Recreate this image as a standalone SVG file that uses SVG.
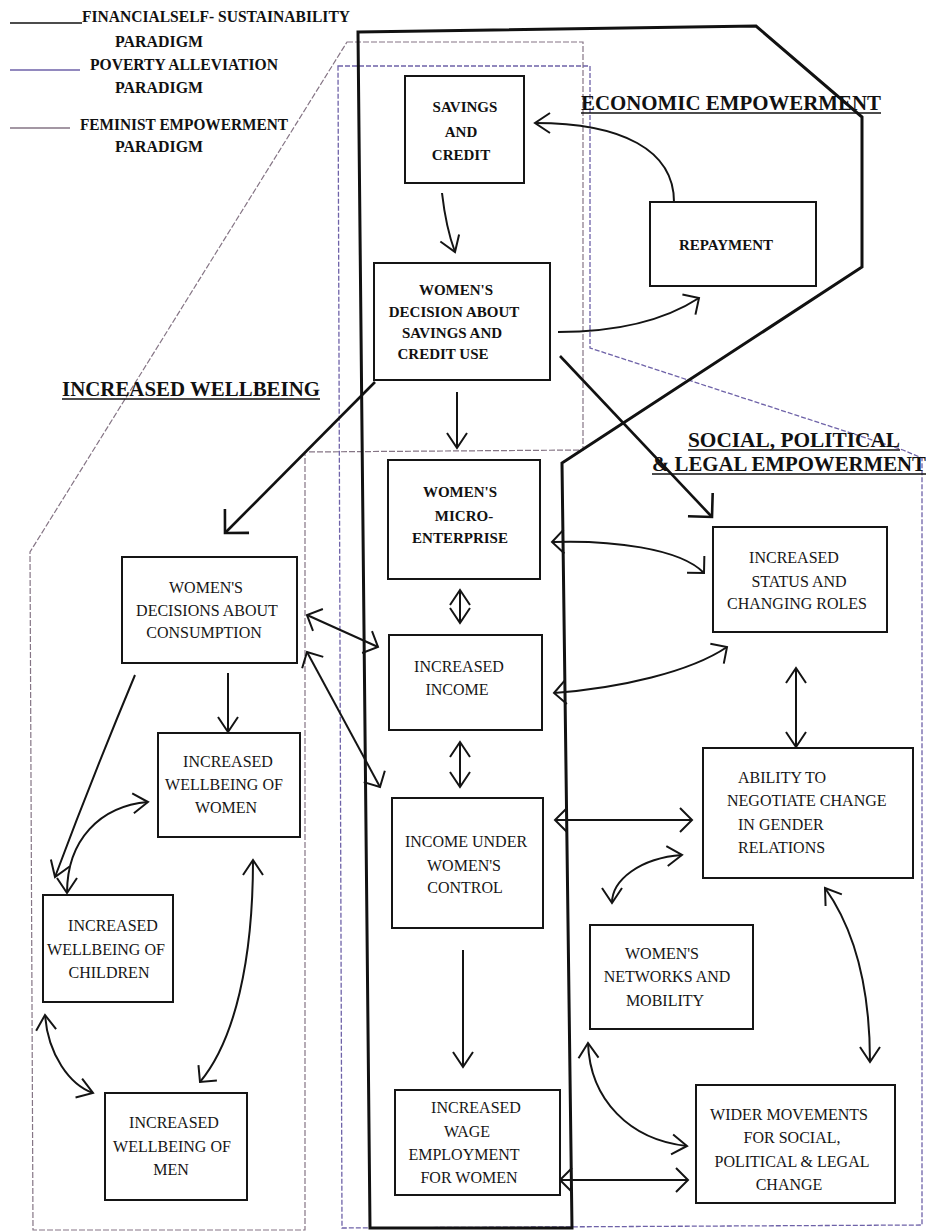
<svg xmlns="http://www.w3.org/2000/svg" width="926" height="1232" viewBox="0 0 926 1232">
<style>
.bx{fill:#fff;stroke:#151515;stroke-width:2}
.t{font-family:"Liberation Serif","Times New Roman",serif;font-size:16px;fill:#161616;text-anchor:middle}
.tb{font-family:"Liberation Serif","Times New Roman",serif;font-size:15px;font-weight:bold;fill:#111;text-anchor:middle}
.tl{text-anchor:start}
.hd{font-family:"Liberation Serif","Times New Roman",serif;font-size:20px;font-weight:bold;fill:#111}
.lg{font-family:"Liberation Serif","Times New Roman",serif;font-size:16px;font-weight:bold;fill:#111}
.ul{stroke:#111;stroke-width:1.6}
.c{fill:none;stroke:#141414;stroke-width:2}
.cb{fill:none;stroke:#111;stroke-width:2.6}
.thick{fill:none;stroke:#111;stroke-width:3;stroke-linejoin:miter}
.pov{fill:none;stroke:#6e62a8;stroke-width:1.3;stroke-dasharray:5 2}
.fem{fill:none;stroke:#857585;stroke-width:1.2;stroke-dasharray:6 2}
</style>
<defs>
<marker id="ah" viewBox="0 0 20 24" refX="18" refY="12" markerWidth="20" markerHeight="24" markerUnits="userSpaceOnUse" orient="auto-start-reverse">
<path d="M3,2 L18,12 L3,22" fill="none" stroke="#141414" stroke-width="2"/>
</marker>
<marker id="ahL" viewBox="0 0 30 30" refX="26" refY="15" markerWidth="30" markerHeight="30" markerUnits="userSpaceOnUse" orient="auto-start-reverse">
<path d="M14,3 L26,15 L14,27" fill="none" stroke="#141414" stroke-width="2"/>
</marker>
<marker id="ahB" viewBox="0 0 40 40" refX="36" refY="20" markerWidth="40" markerHeight="40" markerUnits="userSpaceOnUse" orient="auto-start-reverse">
<path d="M19,3 L36,20 L19,37" fill="none" stroke="#111" stroke-width="2.6"/>
</marker>
</defs>
<rect width="926" height="1232" fill="#fff"/>

<g id="legend">
<line x1="10" y1="23" x2="82" y2="23" stroke="#111" stroke-width="1.5"/>
<text class="lg" x="82" y="22" textLength="268" lengthAdjust="spacingAndGlyphs">FINANCIALSELF- SUSTAINABILITY</text>
<text class="lg" x="115" y="47" textLength="88" lengthAdjust="spacingAndGlyphs">PARADIGM</text>
<line x1="10" y1="70" x2="80" y2="70" stroke="#6e62a8" stroke-width="1.3"/>
<text class="lg" x="90" y="70" textLength="188" lengthAdjust="spacingAndGlyphs">POVERTY ALLEVIATION</text>
<text class="lg" x="115" y="93" textLength="88" lengthAdjust="spacingAndGlyphs">PARADIGM</text>
<line x1="10" y1="128" x2="70" y2="128" stroke="#857585" stroke-width="1.3"/>
<text class="lg" x="80" y="130" textLength="208" lengthAdjust="spacingAndGlyphs">FEMINIST EMPOWERMENT</text>
<text class="lg" x="115" y="152" textLength="88" lengthAdjust="spacingAndGlyphs">PARADIGM</text>
</g>

<g id="paradigm-outlines">
<path id="feminist-outline" class="fem" d="M347,42 L583,42 L583,450 L305,452 L305,1230 L33,1230 L30,552 Z"/>
<path id="poverty-outline" class="pov" d="M338,66 L590,66 L590,348 L903,450 L922,458 L922,1225 L342,1228 Z"/>
<path id="financial-outline" class="thick" d="M358,32 L756,26 L862,117 L862,267 L562,463 L572,1228 L370,1228 Z"/>
</g>

<g id="headers">
<text class="hd" x="581" y="110" textLength="300" lengthAdjust="spacingAndGlyphs">ECONOMIC EMPOWERMENT</text>
<line class="ul" x1="581" y1="113" x2="881" y2="113"/>
<text class="hd" x="62" y="396" textLength="258" lengthAdjust="spacingAndGlyphs">INCREASED WELLBEING</text>
<line class="ul" x1="62" y1="399" x2="320" y2="399"/>
<text class="hd" x="688" y="447" textLength="212" lengthAdjust="spacingAndGlyphs">SOCIAL, POLITICAL</text>
<line class="ul" x1="688" y1="450" x2="900" y2="450"/>
<text class="hd" x="652" y="471" textLength="274" lengthAdjust="spacingAndGlyphs">&amp; LEGAL EMPOWERMENT</text>
<line class="ul" x1="652" y1="474" x2="926" y2="474"/>
</g>

<g id="connectors">
<path class="c" d="M442,193 Q446,228 455,252" marker-end="url(#ah)"/>
<path class="c" d="M674,202 C674,150 622,123 535,123" marker-end="url(#ah)"/>
<path class="c" d="M558,332 C620,332 665,320 699,298" marker-end="url(#ahL)"/>
<path class="cb" d="M560,356 L712,517" marker-end="url(#ahB)"/>
<path class="cb" d="M375,382 L225,533" marker-end="url(#ahB)"/>
<path class="c" d="M457,392 L457,448" marker-end="url(#ah)"/>
<path class="c" d="M460,590 L460,623" marker-start="url(#ah)" marker-end="url(#ah)"/>
<path class="c" d="M460,742 L460,787" marker-start="url(#ah)" marker-end="url(#ah)"/>
<path class="c" d="M463,950 L463,1067" marker-end="url(#ah)"/>
<path class="c" d="M552,542 C610,540 680,548 704,573" marker-start="url(#ahL)" marker-end="url(#ahL)"/>
<path class="c" d="M554,693 C620,688 690,672 727,647" marker-start="url(#ahL)" marker-end="url(#ahL)"/>
<path class="c" d="M796,668 L796,747" marker-start="url(#ah)" marker-end="url(#ah)"/>
<path class="c" d="M555,820 L692,820" marker-start="url(#ahL)" marker-end="url(#ahL)"/>
<path class="c" d="M612,903 C612,880 640,858 682,855" marker-start="url(#ah)" marker-end="url(#ah)"/>
<path class="c" d="M825,888 C855,930 870,990 870,1062" marker-start="url(#ah)" marker-end="url(#ah)"/>
<path class="c" d="M588,1043 C590,1100 630,1140 687,1146" marker-start="url(#ah)" marker-end="url(#ah)"/>
<path class="c" d="M560,1180 L688,1180" marker-start="url(#ahL)" marker-end="url(#ahL)"/>
<path class="c" d="M307,615 L378,647" marker-start="url(#ahL)" marker-end="url(#ahL)"/>
<path class="c" d="M307,652 L380,787" marker-start="url(#ahL)" marker-end="url(#ahL)"/>
<path class="c" d="M228,673 L228,732" marker-end="url(#ah)"/>
<path class="c" d="M135,675 Q92,778 55,877" marker-end="url(#ah)"/>
<path class="c" d="M67,893 C67,840 100,806 148,802" marker-start="url(#ah)" marker-end="url(#ah)"/>
<path class="c" d="M253,860 C253,960 235,1040 200,1082" marker-start="url(#ah)" marker-end="url(#ahL)"/>
<path class="c" d="M45,1015 C48,1055 70,1085 93,1093" marker-start="url(#ah)" marker-end="url(#ah)"/>
</g>

<g id="savings-credit">
<rect class="bx" x="405" y="76" width="119" height="107"/>
<text class="tb"><tspan x="465" y="112">SAVINGS</tspan><tspan x="461" y="137">AND</tspan><tspan x="461" y="160">CREDIT</tspan></text>
</g>
<g id="repayment">
<rect class="bx" x="650" y="202" width="166" height="84"/>
<text class="tb" x="726" y="250">REPAYMENT</text>
</g>
<g id="decision-savings-credit">
<rect class="bx" x="374" y="263" width="176" height="117"/>
<text class="tb"><tspan x="456" y="295">WOMEN'S</tspan><tspan x="454" y="317">DECISION ABOUT</tspan><tspan x="452" y="338">SAVINGS AND</tspan><tspan x="443" y="359">CREDIT USE</tspan></text>
</g>
<g id="micro-enterprise">
<rect class="bx" x="388" y="460" width="152" height="119"/>
<text class="tb"><tspan x="460" y="497">WOMEN'S</tspan><tspan x="464" y="521">MICRO-</tspan><tspan x="460" y="543">ENTERPRISE</tspan></text>
</g>
<g id="increased-income">
<rect class="bx" x="389" y="635" width="153" height="95"/>
<text class="t"><tspan x="459" y="672">INCREASED</tspan><tspan x="457" y="695">INCOME</tspan></text>
</g>
<g id="income-control">
<rect class="bx" x="392" y="798" width="151" height="130"/>
<text class="t"><tspan x="466" y="847">INCOME UNDER</tspan><tspan x="464" y="871">WOMEN'S</tspan><tspan x="465" y="893">CONTROL</tspan></text>
</g>
<g id="wage-employment">
<rect class="bx" x="395" y="1090" width="165" height="105"/>
<text class="t"><tspan x="476" y="1113">INCREASED</tspan><tspan x="467" y="1137">WAGE</tspan><tspan x="464" y="1160">EMPLOYMENT</tspan><tspan x="469" y="1183">FOR WOMEN</tspan></text>
</g>
<g id="consumption-decisions">
<rect class="bx" x="122" y="557" width="175" height="106"/>
<text class="t"><tspan x="206" y="593">WOMEN'S</tspan><tspan x="207" y="616">DECISIONS ABOUT</tspan><tspan x="204" y="638">CONSUMPTION</tspan></text>
</g>
<g id="wellbeing-women">
<rect class="bx" x="158" y="733" width="142" height="104"/>
<text class="t"><tspan x="228" y="767">INCREASED</tspan><tspan x="224" y="790">WELLBEING OF</tspan><tspan x="226" y="813">WOMEN</tspan></text>
</g>
<g id="wellbeing-children">
<rect class="bx" x="43" y="895" width="130" height="107"/>
<text class="t"><tspan x="113" y="931">INCREASED</tspan><tspan x="106" y="955">WELLBEING OF</tspan><tspan x="109" y="978">CHILDREN</tspan></text>
</g>
<g id="wellbeing-men">
<rect class="bx" x="105" y="1093" width="142" height="107"/>
<text class="t"><tspan x="174" y="1128">INCREASED</tspan><tspan x="172" y="1152">WELLBEING OF</tspan><tspan x="171" y="1175">MEN</tspan></text>
</g>
<g id="status-roles">
<rect class="bx" x="713" y="527" width="174" height="105"/>
<text class="t"><tspan x="794" y="563">INCREASED</tspan><tspan x="799" y="587">STATUS AND</tspan><tspan x="797" y="609">CHANGING ROLES</tspan></text>
</g>
<g id="negotiate-gender">
<rect class="bx" x="703" y="748" width="210" height="130"/>
<text class="t tl"><tspan x="738" y="783">ABILITY TO</tspan><tspan x="727" y="806">NEGOTIATE CHANGE</tspan><tspan x="738" y="830">IN GENDER</tspan><tspan x="738" y="853">RELATIONS</tspan></text>
</g>
<g id="networks-mobility">
<rect class="bx" x="590" y="925" width="163" height="104"/>
<text class="t"><tspan x="662" y="959">WOMEN'S</tspan><tspan x="667" y="982">NETWORKS AND</tspan><tspan x="665" y="1006">MOBILITY</tspan></text>
</g>
<g id="wider-movements">
<rect class="bx" x="696" y="1085" width="199" height="118"/>
<text class="t"><tspan x="789" y="1120">WIDER MOVEMENTS</tspan><tspan x="792" y="1143">FOR SOCIAL,</tspan><tspan x="792" y="1167">POLITICAL &amp; LEGAL</tspan><tspan x="789" y="1190">CHANGE</tspan></text>
</g>
</svg>
